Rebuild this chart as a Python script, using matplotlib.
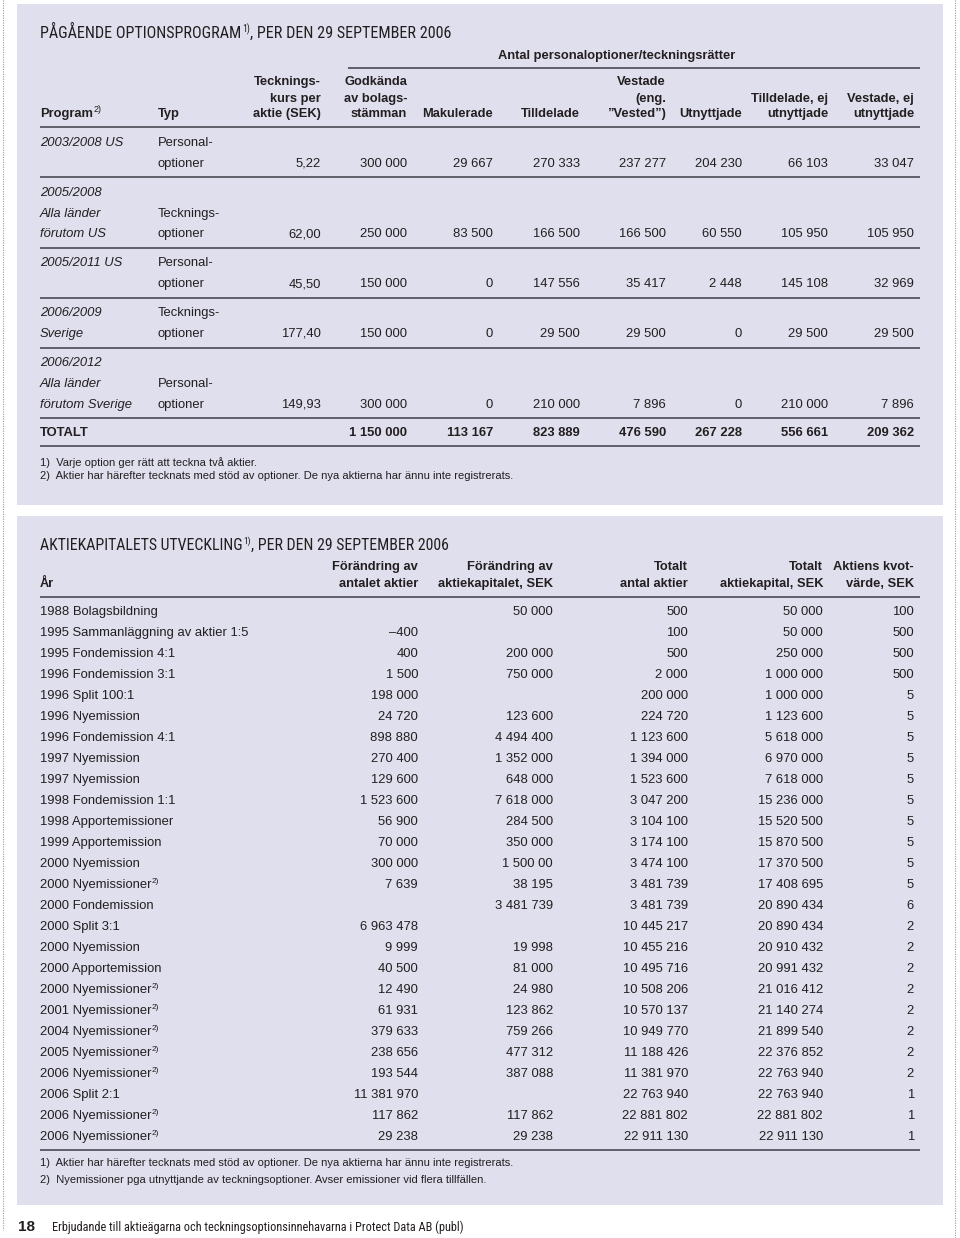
import matplotlib
matplotlib.use("Agg")
import matplotlib.pyplot as plt
from matplotlib.patches import Rectangle
from matplotlib import font_manager

# ---------------- DATA: table 1 ----------------
title1 = "PÅGÅENDE OPTIONSPROGRAM"
title1_rest = ", PER DEN 29 SEPTEMBER 2006"
group_header = "Antal personaloptioner/teckningsrätter"
t1_headers = [
    ["Tecknings-", "kurs per", "aktie (SEK)"],
    ["Godkända", "av bolags-", "stämman"],
    ["Makulerade"],
    ["Tilldelade"],
    ["Vestade", "(eng.", "\u201dVested\u201d)"],
    ["Utnyttjade"],
    ["Tilldelade, ej", "utnyttjade"],
    ["Vestade, ej", "utnyttjade"],
]
programs = [
    ["2003/2008 US"],
    ["2005/2008", "Alla länder", "förutom US"],
    ["2005/2011 US"],
    ["2006/2009", "Sverige"],
    ["2006/2012", "Alla länder", "förutom Sverige"],
]
row_lines = [2, 3, 2, 2, 3]
types = [
    ["Personal-", "optioner"],
    ["Tecknings-", "optioner"],
    ["Personal-", "optioner"],
    ["Tecknings-", "optioner"],
    ["Personal-", "optioner"],
]
kurs = ["5,22", "62,00", "45,50", "177,40", "149,93"]
godkanda = [300000, 250000, 150000, 150000, 300000]
makulerade = [29667, 83500, 0, 0, 0]
tilldelade = [270333, 166500, 147556, 29500, 210000]
vestade = [237277, 166500, 35417, 29500, 7896]
utnyttjade = [204230, 60550, 2448, 0, 0]
tilldelade_ej = [66103, 105950, 145108, 29500, 210000]
vestade_ej = [33047, 105950, 32969, 29500, 7896]
notes1 = ["1)  Varje option ger rätt att teckna två aktier.",
          "2)  Aktier har härefter tecknats med stöd av optioner. De nya aktierna har ännu inte registrerats."]

# ---------------- DATA: table 2 ----------------
title2 = "AKTIEKAPITALETS UTVECKLING"
title2_rest = ", PER DEN 29 SEPTEMBER 2006"
t2_headers = [
    ["Förändring av", "antalet aktier"],
    ["Förändring av", "aktiekapitalet, SEK"],
    ["Totalt", "antal aktier"],
    ["Totalt", "aktiekapital, SEK"],
    ["Aktiens kvot-", "värde, SEK"],
]
events = [
    "1988 Bolagsbildning", "1995 Sammanläggning av aktier 1:5", "1995 Fondemission 4:1",
    "1996 Fondemission 3:1", "1996 Split 100:1", "1996 Nyemission", "1996 Fondemission 4:1",
    "1997 Nyemission", "1997 Nyemission", "1998 Fondemission 1:1", "1998 Apportemissioner",
    "1999 Apportemission", "2000 Nyemission", "2000 Nyemissioner", "2000 Fondemission",
    "2000 Split 3:1", "2000 Nyemission", "2000 Apportemission", "2000 Nyemissioner",
    "2001 Nyemissioner", "2004 Nyemissioner", "2005 Nyemissioner", "2006 Nyemissioner",
    "2006 Split 2:1", "2006 Nyemissioner", "2006 Nyemissioner",
]
event_notes = ["", "", "", "", "", "", "", "", "", "", "", "", "", "2)", "",
               "", "", "", "2)", "2)", "2)", "2)", "2)", "", "2)", "2)"]
chg_shares = ["", "\u2013400", "400", "1 500", "198 000", "24 720", "898 880", "270 400",
              "129 600", "1 523 600", "56 900", "70 000", "300 000", "7 639", "",
              "6 963 478", "9 999", "40 500", "12 490", "61 931", "379 633", "238 656",
              "193 544", "11 381 970", "117 862", "29 238"]
chg_capital = ["50 000", "", "200 000", "750 000", "", "123 600", "4 494 400", "1 352 000",
               "648 000", "7 618 000", "284 500", "350 000", "1 500 00", "38 195", "3 481 739",
               "", "19 998", "81 000", "24 980", "123 862", "759 266", "477 312", "387 088",
               "", "117 862", "29 238"]
tot_shares = ["500", "100", "500", "2 000", "200 000", "224 720", "1 123 600", "1 394 000",
              "1 523 600", "3 047 200", "3 104 100", "3 174 100", "3 474 100", "3 481 739",
              "3 481 739", "10 445 217", "10 455 216", "10 495 716", "10 508 206", "10 570 137",
              "10 949 770", "11 188 426", "11 381 970", "22 763 940", "22 881 802", "22 911 130"]
tot_capital = ["50 000", "50 000", "250 000", "1 000 000", "1 000 000", "1 123 600",
               "5 618 000", "6 970 000", "7 618 000", "15 236 000", "15 520 500", "15 870 500",
               "17 370 500", "17 408 695", "20 890 434", "20 890 434", "20 910 432",
               "20 991 432", "21 016 412", "21 140 274", "21 899 540", "22 376 852",
               "22 763 940", "22 763 940", "22 881 802", "22 911 130"]
quota = ["100", "500", "500", "500", "5", "5", "5", "5", "5", "5", "5", "5", "5", "5", "6",
         "2", "2", "2", "2", "2", "2", "2", "2", "1", "1", "1"]
notes2 = ["1)  Aktier har härefter tecknats med stöd av optioner. De nya aktierna har ännu inte registrerats.",
          "2)  Nyemissioner pga utnyttjande av teckningsoptioner. Avser emissioner vid flera tillfällen."]
footer_page = "18"
footer_text = "Erbjudande till aktieägarna och teckningsoptionsinnehavarna i Protect Data AB (publ)"

# ---------------- STYLE ----------------
W, H = 960, 1238
BG = "#dfdfed"
TXT = "#231f20"
LINE = "#55555f"

entries = font_manager.fontManager.ttflist
names = {f.name for f in entries}
BODY = "Liberation Sans"

# pick a condensed family for titles/footer if one is installed
NARROW, NSTRETCH = "Liberation Sans", "normal"
for nm in ["Liberation Sans Narrow", "Roboto Condensed", "Open Sans Condensed",
           "Noto Sans Condensed", "DejaVu Sans Condensed"]:
    if nm in names:
        NARROW, NSTRETCH = nm, "normal"
        break
else:
    for f in entries:
        st = str(f.stretch).lower()
        if f.name in ("DejaVu Sans", "Noto Sans", "Roboto") and "condensed" in st:
            NARROW, NSTRETCH = f.name, "condensed"
            break

FS = 9.4
FS_H = 9.3

fig = plt.figure(figsize=(W / 100, H / 100), dpi=100)
fig.patch.set_facecolor("white")
ax = fig.add_axes([0, 0, 1, 1])
ax.set_xlim(0, W)
ax.set_ylim(H, 0)
ax.axis("off")
renderer = fig.canvas.get_renderer()
inv = ax.transData.inverted()


def fmt(v):
    return f"{v:,}".replace(",", " ")


def txt(x, y, s, ha="left", bold=False, italic=False, size=FS, family=BODY,
        stretch="normal", **kw):
    return ax.text(x, y, s, ha=ha, va="center", fontsize=size, family=family,
                   fontstretch=stretch,
                   fontweight="bold" if bold else "normal",
                   fontstyle="italic" if italic else "normal", color=TXT, **kw)


def right_edge(t):
    bb = t.get_window_extent(renderer)
    return inv.transform((bb.x1, 0))[0]


def sup_after(t, s, size, dy, family=BODY, stretch="normal"):
    x_end = right_edge(t)
    y = t.get_position()[1]
    return ax.text(x_end + 0.5, y - dy, s, ha="left", va="center", fontsize=size,
                   family=family, fontstretch=stretch, color=TXT)


def hline(y, x0=40, x1=920, lw=1.3):
    ax.plot([x0, x1], [y, y], color=LINE, lw=lw, solid_capstyle="butt")


def fit_size(s, base, target_w, cap=16.0):
    t = txt(0, 0, s, size=base, family=NARROW, stretch=NSTRETCH)
    w = right_edge(t) - 0
    t.remove()
    return min(base * target_w / w, cap)


def title(y, a, b, target_end):
    size = fit_size(a + "1" + b, 13.0, target_end - 40)
    t = txt(40, y, a, size=size, family=NARROW, stretch=NSTRETCH)
    s = sup_after(t, "1)", size * 0.6, size * 0.33, family=NARROW, stretch=NSTRETCH)
    txt(right_edge(s), y, b, size=size, family=NARROW, stretch=NSTRETCH)


# page dotted edges
ax.plot([3, 3], [0, 1230], color="#9a9aa0", lw=0.8, ls=(0, (1, 1.2)))
ax.plot([955, 955], [0, H], color="#9a9aa0", lw=0.8, ls=(0, (1, 1.2)))

# panels
ax.add_patch(Rectangle((17, 4), 926, 501, facecolor=BG, edgecolor="none", zorder=0))
ax.add_patch(Rectangle((17, 516), 926, 689, facecolor=BG, edgecolor="none", zorder=0))

# ---------------- TABLE 1 ----------------
title(33, title1, title1_rest, 449)

txt(617, 56, group_header, ha="center", bold=True, size=FS_H)
hline(68, 348, 920)

col_right1 = [321, 407, 493, 580, 666, 742, 828, 914]
head_y = [82, 99, 114]
for cx, lines in zip(col_right1, t1_headers):
    n = len(lines)
    for k, ln in enumerate(lines):
        txt(cx, head_y[3 - n + k], ln, ha="right", bold=True, size=FS_H)
tp = txt(40, 114, "Program", bold=True, size=FS_H)
sup_after(tp, "2)", 6.5, 5)
txt(158, 114, "Typ", bold=True, size=FS_H)
hline(127)

ROWH = 20.8
y = 143
value_cols = [godkanda, makulerade, tilldelade, vestade, utnyttjade, tilldelade_ej, vestade_ej]
for i in range(len(programs)):
    n = row_lines[i]
    ys = [y + k * ROWH for k in range(n)]
    for k, p in enumerate(programs[i]):
        txt(40, ys[k], p, italic=True)
    txt(158, ys[-2], types[i][0])
    txt(158, ys[-1], types[i][1])
    txt(col_right1[0], ys[-1], kurs[i], ha="right")
    for cx, col in zip(col_right1[1:], value_cols):
        txt(cx, ys[-1], fmt(col[i]), ha="right")
    yl = ys[-1] + 13.5
    hline(yl)
    y = yl + 15.5

# totals
ty = 433
txt(40, ty, "TOTALT", bold=True)
for cx, col in zip(col_right1[1:], value_cols):
    txt(cx, ty, fmt(sum(col)), ha="right", bold=True)
hline(446)
txt(40, 463, notes1[0], size=8.0)
txt(40, 476, notes1[1], size=8.0)

# ---------------- TABLE 2 ----------------
title(545, title2, title2_rest, 446)

col_right2 = [418, 553, 688, 823, 914]
for cx, lines in zip(col_right2, t2_headers):
    txt(cx, 567, lines[0], ha="right", bold=True, size=FS_H)
    txt(cx, 584, lines[1], ha="right", bold=True, size=FS_H)
txt(40, 584, "År", bold=True, size=FS_H)
hline(597)

cols2 = [chg_shares, chg_capital, tot_shares, tot_capital, quota]
for i, ev in enumerate(events):
    yy = 612 + i * 21.0
    te = txt(40, yy, ev)
    if event_notes[i]:
        sup_after(te, event_notes[i], 6.0, 3.5)
    for cx, col in zip(col_right2, cols2):
        if col[i]:
            txt(cx, yy, col[i], ha="right")
hline(1150)
txt(40, 1163, notes2[0], size=8.0)
txt(40, 1180, notes2[1], size=8.0)

# ---------------- FOOTER ----------------
txt(18, 1227, footer_page, bold=True, size=11)
fsize = fit_size(footer_text, 10.5, 466 - 52)
txt(52, 1227, footer_text, size=fsize, family=NARROW, stretch=NSTRETCH)

fig.savefig("out.png", dpi=100, facecolor="white")
